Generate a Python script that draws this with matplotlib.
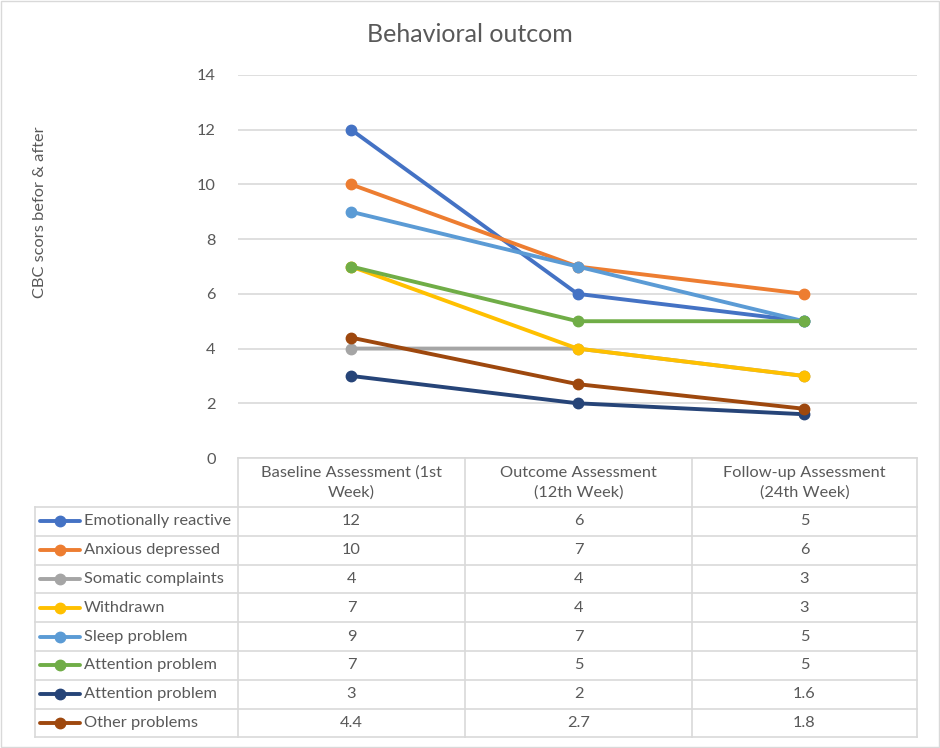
import matplotlib
matplotlib.use("Agg")
import matplotlib.pyplot as plt
from matplotlib.lines import Line2D
from matplotlib.patches import Rectangle

plt.rcParams["font.family"] = ["Lato", "DejaVu Sans"]

# ── data ────────────────────────────────────────────────────────────────
categories = ["Baseline Assessment (1st\nWeek)",
              "Outcome Assessment\n(12th Week)",
              "Follow-up Assessment\n(24th Week)"]
series_names = ["Emotionally reactive", "Anxious depressed", "Somatic complaints",
                "Withdrawn", "Sleep problem", "Attention problem",
                "Attention problem", "Other problems"]
emotionally_reactive = [12, 6, 5]
anxious_depressed = [10, 7, 6]
somatic_complaints = [4, 4, 3]
withdrawn = [7, 4, 3]
sleep_problem = [9, 7, 5]
attention_problem = [7, 5, 5]
attention_problem_2 = [3, 2, 1.6]
other_problems = [4.4, 2.7, 1.8]
series_values = [emotionally_reactive, anxious_depressed, somatic_complaints,
                 withdrawn, sleep_problem, attention_problem,
                 attention_problem_2, other_problems]
colors = ["#4472c4", "#ed7d31", "#a5a5a5", "#ffc000",
          "#5b9bd5", "#70ad47", "#264478", "#9e480e"]
yticks = [0, 2, 4, 6, 8, 10, 12, 14]

W, H = 940, 748
TXT = "#595959"
GRID = "#d9d9d9"
FS = 11.8
LW, MS = 2.8, 7.5

fig = plt.figure(figsize=(W / 100, H / 100), dpi=100)


def fx(px):
    return px / W


def fy(py):
    return 1 - py / H


# ── plot area ───────────────────────────────────────────────────────────
x0, x1, ytop, ybot = 238, 917, 75, 458
ax = fig.add_axes([fx(x0), fy(ybot), fx(x1 - x0), (ybot - ytop) / H])
xs = list(range(len(categories)))
for name, vals, c in zip(series_names, series_values, colors):
    ax.plot(xs, vals, color=c, lw=LW, marker="o", ms=MS, label=name,
            solid_capstyle="round", solid_joinstyle="round")
ax.set_xlim(-0.5, len(categories) - 0.5)
ax.set_ylim(0, 14)
ax.set_yticks(yticks)
ax.set_yticklabels([str(t) for t in yticks], color=TXT, fontsize=FS)
ax.tick_params(axis="y", length=0, pad=16)
ax.set_xticks([])
ax.grid(axis="y", color=GRID, lw=1.2)
ax.set_axisbelow(True)
for s in ax.spines.values():
    s.set_visible(False)

fig.text(0.5, fy(35), "Behavioral outcom", ha="center", va="center",
         fontsize=18, color=TXT)
fig.text(fx(40), fy(212), "CBC scors befor & after", ha="center", va="center",
         rotation=90, fontsize=11.8, color=TXT)

# ── data table ──────────────────────────────────────────────────────────
col_edges = [35, 238, 465, 692, 917]
head_top, head_bot = 458, 507
row_h = 28.8
n_rows = len(series_names)
tab_bot = head_bot + n_rows * row_h


def hline(py, xa, xb):
    fig.add_artist(Line2D([fx(xa), fx(xb)], [fy(py), fy(py)], color=GRID, lw=1.2))


def vline(px, ya, yb):
    fig.add_artist(Line2D([fx(px), fx(px)], [fy(ya), fy(yb)], color=GRID, lw=1.2))


hline(head_top, col_edges[1], col_edges[-1])
for i in range(n_rows + 1):
    hline(head_bot + i * row_h, col_edges[0], col_edges[-1])
vline(col_edges[0], head_bot, tab_bot)
for px in col_edges[1:]:
    vline(px, head_top, tab_bot)

for j, cat in enumerate(categories):
    cx = (col_edges[j + 1] + col_edges[j + 2]) / 2
    fig.text(fx(cx), fy((head_top + head_bot) / 2), cat, ha="center", va="center",
             fontsize=FS, color=TXT, linespacing=1.45)

for i, (name, vals, c) in enumerate(zip(series_names, series_values, colors)):
    cy = head_bot + (i + 0.5) * row_h
    fig.add_artist(Line2D([fx(40), fx(80)], [fy(cy), fy(cy)], color=c, lw=LW,
                          solid_capstyle="round"))
    fig.add_artist(Line2D([fx(60)], [fy(cy)], color=c, marker="o", ms=MS))
    fig.text(fx(84), fy(cy), name, ha="left", va="center", fontsize=FS, color=TXT)
    for j, v in enumerate(vals):
        cx = (col_edges[j + 1] + col_edges[j + 2]) / 2
        fig.text(fx(cx), fy(cy), f"{v:g}", ha="center", va="center",
                 fontsize=FS, color=TXT)

fig.add_artist(Rectangle((0.001, 0.001), 0.998, 0.998, transform=fig.transFigure,
                         fill=False, edgecolor=GRID, lw=1))

fig.savefig("out.png", dpi=100)
